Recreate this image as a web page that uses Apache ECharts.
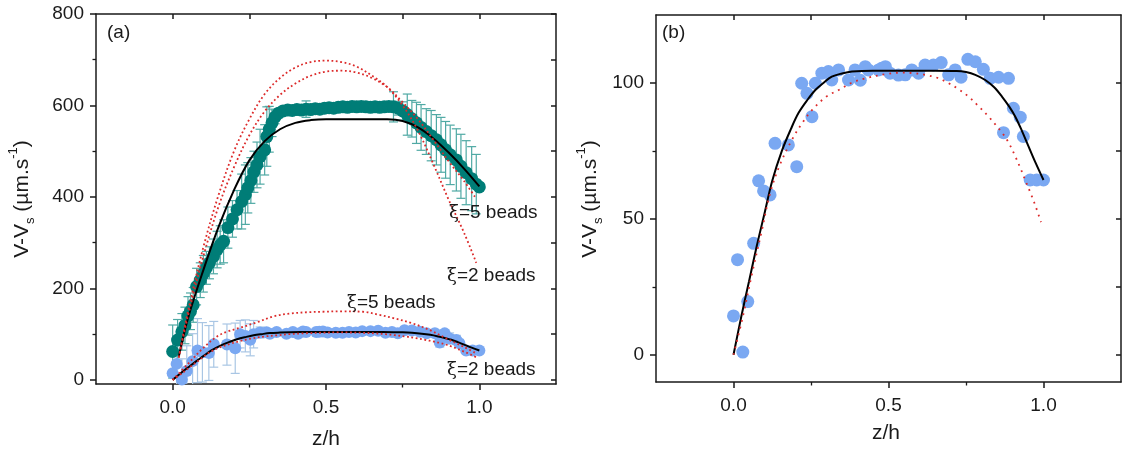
<!DOCTYPE html>
<html>
<head>
<meta charset="utf-8">
<script src="https://cdn.jsdelivr.net/npm/echarts@6/dist/echarts.min.js"></script>
<style>html,body{margin:0;padding:0;background:#fff}#c{width:1123px;height:455px}</style>
</head>
<body>
<div id="c"></div>
<script>
// ---------- DATA ----------
// Panel (a), teal series (z/h, V-Vs, error)
const tealZ = [0.000,0.016,0.030,0.040,0.050,0.058,0.067,0.078,0.090,0.100,0.110,0.120,0.133,0.145,0.155,0.166,0.180,0.195,0.210,0.225,0.237,0.245,0.255,0.265,0.275,0.285,0.300,0.307,0.315,0.324,0.334,0.345,0.360,0.375,0.390,0.405,0.420,0.435,0.450,0.465,0.480,0.495,0.510,0.525,0.540,0.555,0.570,0.585,0.600,0.615,0.630,0.645,0.660,0.675,0.690,0.705,0.720,0.735,0.750,0.765,0.780,0.795,0.810,0.827,0.843,0.860,0.875,0.890,0.905,0.925,0.940,0.957,0.975,0.990,1.000];
const tealV = [62,87,105,119,140,150,164,204,218,232,245,256,270,285,295,303,333,352,372,390,405,420,436,455,470,488,503,532,548,562,575,583,588,590,589,591,590,592,591,593,592,594,595,594,596,597,596,598,597,598,597,596,597,596,597,598,597,594,588,580,571,562,552,543,534,525,514,503,492,481,467,453,440,428,422];
const tealErr = [58,45,40,40,42,40,38,40,38,40,36,35,38,40,42,47,45,40,42,60,65,55,50,45,50,60,55,65,50,30,15,10,8,8,8,8,8,18,8,8,8,8,8,8,8,8,8,8,8,8,8,8,8,8,8,10,33,15,20,45,40,45,50,50,55,55,60,62,65,68,70,70,70,65,0];

// Blue series (same measurements in (a) and (b))
const blueZ = [0.000,0.013,0.030,0.046,0.065,0.081,0.097,0.118,0.134,0.177,0.204,0.220,0.237,0.253,0.264,0.285,0.306,0.317,0.339,0.371,0.392,0.409,0.425,0.435,0.468,0.478,0.490,0.505,0.532,0.554,0.575,0.597,0.618,0.645,0.670,0.694,0.715,0.734,0.756,0.780,0.806,0.828,0.855,0.871,0.887,0.903,0.925,0.935,0.957,0.978,1.000];
const blueV = [14.3,35,1,19.6,41,64,60.3,58.8,77.8,77.2,69.2,99.9,96.2,87.6,99.9,103.6,104.2,101.1,104.8,101.1,104.8,101,106,104.8,104.8,105.4,106,103.6,102.9,103,104.8,103.6,106.6,106.6,107.5,103,104.8,102.1,108.7,107.8,105,101.7,102.1,81.7,101.7,90.7,87.4,80.3,64.3,64.3,64.3];
const blueErrA = [0,50,45,55,60,70,65,60,50,45,55,30,35,35,30,12,8,6,6,5,5,5,5,5,5,5,5,5,5,5,5,5,5,5,5,5,5,5,5,5,5,5,8,10,8,12,10,8,5,5,0];

// Black fit curves
const fitTealZ = [0.02,0.05,0.10,0.15,0.20,0.25,0.30,0.35,0.40,0.45,0.50,0.60,0.70,0.75,0.80,0.85,0.90,0.95,1.00];
const fitTealV = [51,135,240,335,415,480,522,548,562,568,570,570,570,566,552,528,497,462,423];
const fitBlueZ = [0,0.025,0.05,0.075,0.10,0.125,0.156,0.185,0.21,0.24,0.264,0.29,0.317,0.35,0.382,0.45,0.55,0.65,0.72,0.75,0.78,0.812,0.84,0.866,0.89,0.909,0.93,0.952,0.975,1.0];
const fitBlueV = [0,14,27,40,52,64,75,83,89,94,97.4,100,102.3,103.5,104.2,104.5,104.5,104.5,104.4,104,103,101.1,98.5,95,91.2,87.6,82.5,76.6,70.5,64.3];

// Red dotted model curves
const xi2UpZ = [0.02,0.05,0.10,0.15,0.20,0.25,0.30,0.35,0.40,0.45,0.50,0.55,0.60,0.65,0.70,0.75,0.80,0.85,0.90,0.95,0.99];
const xi2UpV = [50,150,290,405,500,570,625,660,683,695,698,695,685,665,640,600,545,472,394,322,256];
const xi5UpZ = [0.02,0.05,0.10,0.15,0.20,0.25,0.30,0.35,0.40,0.45,0.50,0.55,0.60,0.65,0.70,0.74,0.80,0.85,0.90,0.95,0.99];
const xi5UpV = [48,140,270,380,465,535,587,623,648,665,674,676,672,660,640,614,570,525,478,435,396];
const xi5LowZ = [0,0.05,0.10,0.145,0.18,0.22,0.275,0.33,0.383,0.44,0.49,0.55,0.62,0.675,0.72,0.78,0.838,0.90,0.95,0.99];
const xi5LowV = [0,35,70,95,106,114,126,139,145,148,149,150,149,142,135,124,109,88,72,58];
const xi2LowZ = [0,0.03,0.06,0.09,0.118,0.15,0.188,0.22,0.253,0.30,0.339,0.38,0.425,0.495,0.543,0.58,0.618,0.66,0.694,0.725,0.758,0.79,0.823,0.85,0.871,0.89,0.909,0.925,0.941,0.96,0.975,0.992];
const xi2LowV = [0,14,30,45,59.4,70,79,85,90,95,97.4,100,101.7,103.3,103.8,103.6,103,101.8,99.9,97.8,95,91.5,87.6,84,81,77.5,73,68.8,64.3,59,54.5,48.8];

// Axis ticks / labels
const xMajor = [0, 0.5, 1.0];
const xMinor = [0.25, 0.75];
const yMajorA = [0, 200, 400, 600, 800];
const yMinorA = [100, 300, 500, 700];
const yMajorB = [0, 50, 100];
const yMinorB = [25, 75];

// ---------- CHART ----------
const FONT = 'Liberation Sans, Arial, sans-serif';
const INK = '#1a1a1a';
const TEAL = '#007d77';
const BLUE = '#7aa8f2';
const RED = '#dc2a2a';

const pair = (zs, vs) => zs.map((z, i) => [z, vs[i]]);
const triple = (zs, vs, es) => zs.map((z, i) => [z, vs[i], es[i]]);

function baseAxis(gridIndex, pos, min, max) {
  return {
    type: 'value', gridIndex, position: pos, min, max,
    splitLine: { show: false },
    axisLine: { show: true, onZero: false, lineStyle: { color: INK, width: 1.5 } },
    axisTick: { show: false },
    axisLabel: { show: false }
  };
}
function mainAxis(gridIndex, pos, min, max, major, fmt, margin) {
  const a = baseAxis(gridIndex, pos, min, max);
  a.axisTick = { show: true, inside: false, length: 6, customValues: major, lineStyle: { color: INK, width: 1.5 } };
  a.axisLabel = { show: true, customValues: major, formatter: fmt, fontFamily: FONT, fontSize: 19, color: INK, margin };
  return a;
}
function minorAxis(gridIndex, pos, min, max, minor) {
  const a = baseAxis(gridIndex, pos, min, max);
  a.axisLine = { show: false, onZero: false };
  a.axisTick = { show: true, inside: false, length: 3.5, customValues: minor, lineStyle: { color: INK, width: 1.3 } };
  return a;
}
function mirrorAxis(gridIndex, pos, min, max, ticks) {
  const a = baseAxis(gridIndex, pos, min, max);
  a.axisTick = { show: true, inside: true, length: 5, customValues: ticks, lineStyle: { color: INK, width: 1.5 } };
  return a;
}

const XMIN = -0.25, XMAX = 1.25;
const YA = [-9, 800], YB = [-10, 125];
const fx = v => v.toFixed(1);
const fy = v => String(v);

const xAxis = [
  mainAxis(0, 'bottom', XMIN, XMAX, xMajor, fx, 14),
  minorAxis(0, 'bottom', XMIN, XMAX, xMinor),
  mirrorAxis(0, 'top', XMIN, XMAX, xMajor.concat(xMinor)),
  mainAxis(1, 'bottom', XMIN, XMAX, xMajor, fx, 14),
  minorAxis(1, 'bottom', XMIN, XMAX, xMinor),
  mirrorAxis(1, 'top', XMIN, XMAX, xMajor.concat(xMinor))
];
const yAxis = [
  mainAxis(0, 'left', YA[0], YA[1], yMajorA, fy, 12),
  minorAxis(0, 'left', YA[0], YA[1], yMinorA),
  mirrorAxis(0, 'right', YA[0], YA[1], yMajorA.concat(yMinorA)),
  mainAxis(1, 'left', YB[0], YB[1], yMajorB, fy, 12),
  minorAxis(1, 'left', YB[0], YB[1], yMinorB),
  mirrorAxis(1, 'right', YB[0], YB[1], yMajorB.concat(yMinorB))
];

function errSeries(xi, yi, data, color) {
  return {
    type: 'custom', xAxisIndex: xi, yAxisIndex: yi, clip: true, z: 1,
    data,
    renderItem: function (params, api) {
      const x = api.value(0), y = api.value(1), e = api.value(2);
      if (!e) return null;
      const t = api.coord([x, y + e]);
      const b = api.coord([x, y - e]);
      const w = 4.5;
      const st = { stroke: color, lineWidth: 1.2, fill: null };
      return {
        type: 'group',
        children: [
          { type: 'line', shape: { x1: t[0], y1: t[1], x2: b[0], y2: b[1] }, style: st },
          { type: 'line', shape: { x1: t[0] - w, y1: t[1], x2: t[0] + w, y2: t[1] }, style: st },
          { type: 'line', shape: { x1: b[0] - w, y1: b[1], x2: b[0] + w, y2: b[1] }, style: st }
        ]
      };
    }
  };
}
function scatter(xi, yi, data, color, size) {
  return { type: 'scatter', xAxisIndex: xi, yAxisIndex: yi, data, symbol: 'circle', symbolSize: size,
    itemStyle: { color, opacity: 1 }, z: 2, silent: true };
}
function curve(xi, yi, data, color, width, dash) {
  return { type: 'line', xAxisIndex: xi, yAxisIndex: yi, data, showSymbol: false, symbol: 'none', smooth: 0.35,
    lineStyle: { color, width, type: dash || 'solid', cap: 'butt' }, z: 3, silent: true };
}

const DOT_A = [1.8, 2.6];
const DOT_B = [1.8, 5];
const series = [
  errSeries(0, 0, triple(tealZ, tealV, tealErr), '#4fa9a4'),
  errSeries(0, 0, triple(blueZ, blueV, blueErrA), '#a9c6e4'),
  scatter(0, 0, pair(tealZ, tealV), TEAL, 13),
  scatter(0, 0, pair(blueZ, blueV), BLUE, 12),
  curve(0, 0, pair(fitTealZ, fitTealV), '#000', 2),
  curve(0, 0, pair(fitBlueZ, fitBlueV), '#000', 2),
  curve(0, 0, pair(xi2UpZ, xi2UpV), RED, 1.8, DOT_A),
  curve(0, 0, pair(xi5UpZ, xi5UpV), RED, 1.8, DOT_A),
  curve(0, 0, pair(xi5LowZ, xi5LowV), RED, 1.8, DOT_A),
  curve(0, 0, pair(xi2LowZ, xi2LowV), RED, 1.8, DOT_A),
  scatter(3, 3, pair(blueZ, blueV), BLUE, 13),
  curve(3, 3, pair(fitBlueZ, fitBlueV), '#000', 2),
  curve(3, 3, pair(xi2LowZ, xi2LowV), RED, 1.8, DOT_B)
];

function label(x, y, n) {
  return { type: 'text', x, y, z: 10, style: {
    text: '{g|ξ}=' + n + ' beads', fontFamily: FONT, fontSize: 19, fill: INK,
    textAlign: 'left', textVerticalAlign: 'middle',
    rich: { g: { fontFamily: 'DejaVu Serif', fontSize: 18, fill: INK } } } };
}
function ytitle(x, y) {
  return { type: 'text', x, y, rotation: Math.PI / 2, z: 10, style: {
    text: 'V-V{sub|s} (µm.s{sup|-1})', fontFamily: FONT, fontSize: 21, fill: INK, lineHeight: 30,
    textAlign: 'center', textVerticalAlign: 'middle',
    rich: {
      sub: { fontFamily: FONT, fontSize: 13, fill: INK, verticalAlign: 'bottom', lineHeight: 14 },
      sup: { fontFamily: FONT, fontSize: 13, fill: INK, verticalAlign: 'top', lineHeight: 14 }
    } } };
}
function plain(x, y, t, size, align) {
  return { type: 'text', x, y, z: 10, style: { text: t, fontFamily: FONT, fontSize: size, fill: INK,
    textAlign: align || 'center', textVerticalAlign: 'middle' } };
}

const graphic = [
  plain(107, 33, '(a)', 19, 'left'),
  plain(662, 33, '(b)', 19, 'left'),
  label(449, 213, 5),
  label(447, 276, 2),
  label(347, 303, 5),
  label(447, 370, 2),
  ytitle(22, 199),
  ytitle(590, 199),
  plain(326, 439, 'z/h', 21),
  plain(886, 433, 'z/h', 21)
];

const chart = echarts.init(document.getElementById('c'), null, { renderer: 'canvas' });
chart.setOption({
  animation: false,
  backgroundColor: '#fff',
  grid: [
    { left: 96, right: 567, top: 14, bottom: 71 },
    { left: 656, right: 2, top: 15, bottom: 73 }
  ],
  xAxis, yAxis, series, graphic
});
</script>
</body>
</html>
